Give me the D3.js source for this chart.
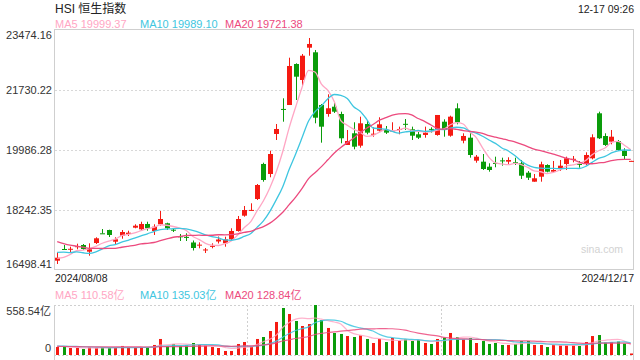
<!DOCTYPE html>
<html><head><meta charset="utf-8">
<script src="https://cdn.jsdelivr.net/npm/d3@7"></script>
<style>body{margin:0;background:#fff}svg{display:block}text{font-family:"Liberation Sans",Arial,"Noto Sans CJK SC",sans-serif}</style>
</head><body><svg id="c" width="640" height="360"></svg>
<script>
const title = "HSI 恒生指数";
const timeLabel = "12-17 09:26";
const dateLabels = ["2024/08/08", "2024/12/17"];
const open  = [16769,17109,17100,17165,17225,17030,17283,17565,17661,17321,17496,17545,17728,17681,17836,17632,17827,17856,17670,17478,17460,17298,17210,17075,17185,17327,17275,17391,17632,18077,18230,18562,19580,19289,20452,21180,21294,22486,22021,22960,22826,21294,21033,21245,21033,20132,20472,20112,20742,20440,20547,20568,20540,20580,20747,20588,20443,20423,20600,20423,20809,20402,21198,20257,20344,19676,19647,19501,19610,19685,19647,19630,19600,19327,19065,19210,19550,19356,19434,19580,19715,19580,19600,19745,21053,20393,20228,20248,19966,19665];
const high  = [17013,17225,17176,17263,17254,17274,17449,17690,17670,17449,17661,17641,17827,17902,17902,17827,18213,17873,17711,17545,17565,17356,17303,17138,17274,17472,17466,17711,18068,18359,18437,18998,19617,19966,20742,21489,22669,22506,22777,23242,22893,21323,21605,21352,21100,20568,20792,20955,20858,20647,20937,20684,20792,20665,20887,20665,20518,20665,20646,21004,20878,20984,21343,20472,20489,19841,19870,19600,19792,19763,19774,19763,19696,19376,19289,19647,19571,19667,19696,19792,19812,19667,19919,20443,21100,20472,20568,20277,20036,19672];
const low   = [16673,17098,17013,17100,17080,16914,17254,17558,17458,17254,17408,17487,17711,17641,17641,17516,17786,17661,17603,17341,17341,17065,17129,16992,17129,17269,17176,17350,17612,18048,18222,18533,19065,19193,20277,20809,21294,21440,21826,22727,20762,20199,20954,21062,20181,20132,20007,20054,20443,20373,20518,20452,20518,20443,20568,20277,20306,20344,20490,20402,20373,20373,20733,20181,19763,19617,19405,19356,19484,19530,19580,19550,19144,19114,19065,19065,19337,19337,19376,19405,19628,19472,19550,19715,20306,20103,20152,19957,19725,19662];
const close = [16856,17100,17115,17190,17109,17100,17420,17560,17516,17391,17603,17583,17786,17836,17711,17757,17981,17711,17655,17465,17440,17138,17235,17095,17200,17385,17391,17632,17981,18242,18245,18969,19114,19870,20597,21170,22428,22117,22727,23068,20925,20664,21199,21100,20327,20248,20083,20762,20490,20460,20733,20490,20555,20597,20733,20402,20344,20490,20585,21004,20568,20955,20791,20394,19841,19792,19434,19405,19595,19675,19696,19617,19239,19181,19164,19571,19356,19405,19530,19745,19730,19565,19841,20356,20327,20132,20373,19986,19812,19670];
const volume = [89,89,78,78,67,86,78,86,83,83,101,83,83,86,89,112,179,101,123,101,108,134,112,105,89,78,45,45,123,145,94,179,201,268,369,525,458,380,324,346,558.54,391,302,246,235,212,201,220,179,134,179,145,190,161,175,156,168,134,123,179,194,246,201,175,190,134,156,123,134,112,112,123,156,156,112,112,89,112,112,112,112,101,145,212,223,139,145,150,127,17];
// closes / volumes of the sessions just before the window (needed for the moving averages at the left edge)
const priorCloses = [18293,18016,17728,17739,17778,17418,17636,17469,17311,17005,17021,17238,17003,17345,17305,16946,16698,16647,17031];
const priorVolumes = [102,95,88,92,85,90,88,96,92,98,85,90,94,100,96,105,118,110,95];
const priceTicks = [16498.41, 18242.35, 19986.28, 21730.22, 23474.16];
const volTicks = [0, 558.54];
const volMax = 558.54;
const maPeriods = [5, 10, 20];
const maLabels = ["MA5 19999.37", "MA10 19989.10", "MA20 19721.38"];
const volMaLabels = ["MA5 110.58亿", "MA10 135.03亿", "MA20 128.84亿"];

const maColors = ["#ffa6c4", "#3ec6e0", "#ec4a7e"];
const UP = "#f51a12", DOWN = "#0a9c0a";
const L = 54, R = 634, T = 30, B = 270, VT = 305, VB = 355;

const svg = d3.select("#c");
const n = close.length;
const x = d3.scaleBand().domain(d3.range(n)).range([L, R]).padding(0);
const step = x.step();
const cx = i => x(i) + step / 2;
const y = d3.scaleLinear().domain([priceTicks[0], priceTicks[priceTicks.length - 1]]).range([B, T]);
const yv = d3.scaleLinear().domain([0, volMax]).range([VB, VT]);

function ma(series, prior, p) {
  const full = prior.concat(series);
  const off = prior.length;
  return series.map((_, i) => d3.mean(full.slice(off + i - p + 1, off + i + 1)));
}

// frame
svg.append("rect").attr("x", L + 0.5).attr("y", T - 0.5).attr("width", R - L - 1).attr("height", B - T)
  .attr("fill", "none").attr("stroke", "#cfcfcf");
// grid
svg.append("g").selectAll("line").data(priceTicks.slice(1, -1)).join("line")
  .attr("x1", L + 1).attr("x2", R - 1)
  .attr("y1", d => Math.round(y(d)) + 0.5).attr("y2", d => Math.round(y(d)) + 0.5)
  .attr("stroke", "#d8d8d8").attr("stroke-dasharray", "2,2");

// y labels
svg.append("g").selectAll("text").data(priceTicks).join("text")
  .attr("x", 52).attr("y", (d, i) => i === 0 ? B - 6 : (i === priceTicks.length - 1 ? T + 5 : y(d)))
  .attr("text-anchor", "end").attr("dominant-baseline", "central")
  .attr("font-size", 11).attr("fill", "#333").text(d => d.toFixed(2));

// watermark
svg.append("text").attr("x", 623).attr("y", 249).attr("text-anchor", "end").attr("dominant-baseline", "central")
  .attr("font-size", 10.5).attr("fill", "#d2d2d2").text("sina.com");

// candles
const cg = svg.append("g");
d3.range(n).forEach(i => {
  const up = close[i] >= open[i];
  const col = up ? UP : DOWN;
  const xc = Math.round(cx(i)) + 0.5;
  cg.append("line").attr("x1", xc).attr("x2", xc).attr("y1", y(high[i])).attr("y2", y(low[i]))
    .attr("stroke", col).attr("stroke-width", 1);
  const yt = y(Math.max(open[i], close[i])), yb = y(Math.min(open[i], close[i]));
  const bw = 5;
  cg.append("rect").attr("x", xc - 0.5 - 2).attr("y", yt).attr("width", bw).attr("height", Math.max(1, yb - yt))
    .attr("fill", col);
});

// MA lines
maPeriods.forEach((p, k) => {
  const m = ma(close, priorCloses, p);
  svg.append("path").datum(m)
    .attr("d", d3.line().x((d, i) => cx(i)).y(d => y(d)).curve(d3.curveMonotoneX))
    .attr("fill", "none").attr("stroke", maColors[k]).attr("stroke-width", 1.3);
});

// header texts
svg.append("text").attr("x", 55).attr("y", 9).attr("dominant-baseline", "central")
  .attr("font-size", 12).attr("fill", "#222").text(title);
svg.append("text").attr("x", 634).attr("y", 9).attr("text-anchor", "end").attr("dominant-baseline", "central")
  .attr("font-size", 10.5).attr("fill", "#222").text(timeLabel);
const maX = [55, 140, 225];
maLabels.forEach((t, k) => svg.append("text").attr("x", maX[k]).attr("y", 24).attr("dominant-baseline", "central")
  .attr("font-size", 11).attr("fill", maColors[k]).text(t));

// date labels
svg.append("text").attr("x", 55).attr("y", 278).attr("dominant-baseline", "central")
  .attr("font-size", 10.5).attr("fill", "#222").text(dateLabels[0]);
svg.append("text").attr("x", 634).attr("y", 278).attr("text-anchor", "end").attr("dominant-baseline", "central")
  .attr("font-size", 10.5).attr("fill", "#222").text(dateLabels[1]);

// volume panel
volMaLabels.forEach((t, k) => svg.append("text").attr("x", maX[k]).attr("y", 295).attr("dominant-baseline", "central")
  .attr("font-size", 11).attr("fill", maColors[k]).text(t));
svg.append("line").attr("x1", L).attr("x2", R).attr("y1", VT + 0.5).attr("y2", VT + 0.5)
  .attr("stroke", "#cfcfcf").attr("stroke-dasharray", "2,2");
svg.append("line").attr("x1", L).attr("x2", R).attr("y1", VB + 0.5).attr("y2", VB + 0.5)
  .attr("stroke", "#cfcfcf").attr("stroke-dasharray", "2,2");
[L + 0.5, R - 0.5].forEach(xx => svg.append("line").attr("x1", xx).attr("x2", xx).attr("y1", VT).attr("y2", 360)
  .attr("stroke", "#cfcfcf"));
[Math.round(n / 3), Math.round(2 * n / 3)].forEach(i => {
  const xx = Math.round(x(i)) + 0.5;
  svg.append("line").attr("x1", xx).attr("x2", xx).attr("y1", VT).attr("y2", VB)
    .attr("stroke", "#cfcfcf").attr("stroke-dasharray", "2,2");
});
svg.append("g").selectAll("text").data(volTicks).join("text")
  .attr("x", 51).attr("y", (d, i) => i === 0 ? VB - 7 : VT + 6)
  .attr("text-anchor", "end").attr("dominant-baseline", "central")
  .attr("font-size", 11).attr("fill", "#333").text(d => d === 0 ? "0" : d.toFixed(2) + "亿");

const vg = svg.append("g");
d3.range(n).forEach(i => {
  const up = close[i] >= open[i];
  const xc = Math.round(cx(i));
  vg.append("rect").attr("x", xc - 1).attr("y", yv(volume[i])).attr("width", 3)
    .attr("height", Math.max(1, VB - yv(volume[i]))).attr("fill", up ? UP : DOWN);
});
maPeriods.forEach((p, k) => {
  const m = ma(volume, priorVolumes, p);
  svg.append("path").datum(m)
    .attr("d", d3.line().x((d, i) => cx(i)).y(d => yv(d)).curve(d3.curveMonotoneX))
    .attr("fill", "none").attr("stroke", maColors[k]).attr("stroke-width", 1.2).attr("opacity", 0.85);
});
</script></body></html>
